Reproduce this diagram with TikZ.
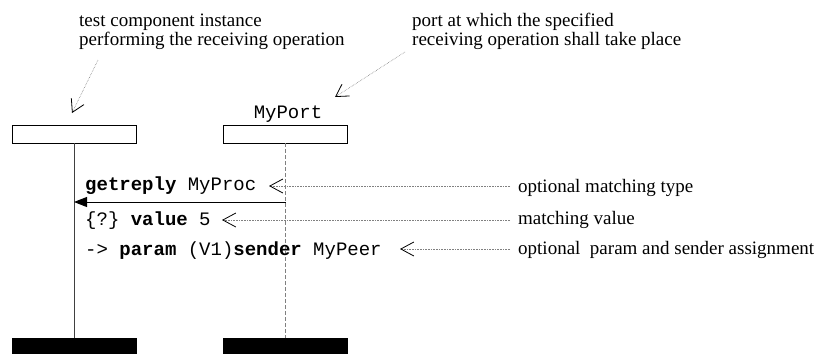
\documentclass[tikz,border=0pt]{standalone}
\usepackage{fontspec}
\setmainfont{Liberation Serif}
\setmonofont{Liberation Mono}
\usetikzlibrary{arrows.meta}
\begin{document}
\begin{tikzpicture}[x=1pt,y=-1pt,
  instbox/.style={draw,line width=0.8pt,minimum width=124pt,minimum height=18pt,inner sep=0pt},
  endbox/.style={fill=black,minimum width=125pt,minimum height=16pt,inner sep=0pt},
  note/.style={font=\fontsize{19}{20}\selectfont,inner sep=0pt,anchor=base west},
  code/.style={font=\fontsize{19}{20}\selectfont\ttfamily,inner sep=0pt,anchor=base west},
  notearrow/.style={densely dotted,gray,line width=0.6pt,-{Straight Barb[length=12pt,width=14pt,line width=0.8pt,black]}},
  cmtline/.style={densely dotted,gray,line width=0.6pt,-{Straight Barb[length=13pt,width=14pt,line width=0.8pt,black]}},
  msg/.style={line width=1pt,-{Triangle[length=13pt,width=10pt]}}
]
\useasboundingbox (0,0) rectangle (818,354);
% headers
\node[instbox] (inst) at (74,134) {};
\node[instbox] (port) at (285.5,134) {};
\node[code,anchor=base] (portname) at (288,118) {MyPort};
\node[endbox] (instend) at (74,346) {};
\node[endbox] (portend) at (285.5,346) {};
% lifelines
\draw[line width=1pt,black!75] (inst.south) -- (instend.north);
\draw[line width=0.8pt,gray,dashed,dash pattern=on 4pt off 2pt] (port.south) -- (portend.north);
% top annotations
\node[note] (t1) at (79,26) {test component instance};
\node[note] (t2) at (79,45) {performing the receiving operation};
\node[note] (p1) at (412,26) {port at which the specified};
\node[note] (p2) at (412,45) {receiving operation shall take place};
\coordinate (t2a) at (98,60);
\coordinate (t2b) at (72,113);
\coordinate (p2a) at (405,52);
\coordinate (p2b) at (335,97);
\draw[notearrow] (t2a) -- (t2b);
\draw[notearrow] (p2a) -- (p2b);
% message
\coordinate (ms) at (285.5,202);
\coordinate (me) at (74,202);
\draw[msg] (ms) -- (me);
% code lines
\node[code] (c1) at (85,190) {\textbf{getreply} MyProc};
\node[code] (c2) at (85,225) {\{?\} \textbf{value} 5};
\node[code] (c3) at (85,255) {-> \textbf{param} (V1)\textbf{sender} MyPeer};
% comments
\node[note] (n1) at (518,192) {optional matching type};
\node[note] (n2) at (518,224) {matching value};
\node[note] (n3) at (518,254) {optional\ \ param and sender assignment};
\coordinate (a1) at (269,186);
\coordinate (a2) at (222,220);
\coordinate (a3) at (400,249);
\draw[cmtline] (n1.west |- a1) ++(-8,0) coordinate (b1) -- (a1);
\draw[cmtline] (n2.west |- a2) ++(-8,0) coordinate (b2) -- (a2);
\draw[cmtline] (n3.west |- a3) ++(-8,0) coordinate (b3) -- (a3);
\end{tikzpicture}
\end{document}
